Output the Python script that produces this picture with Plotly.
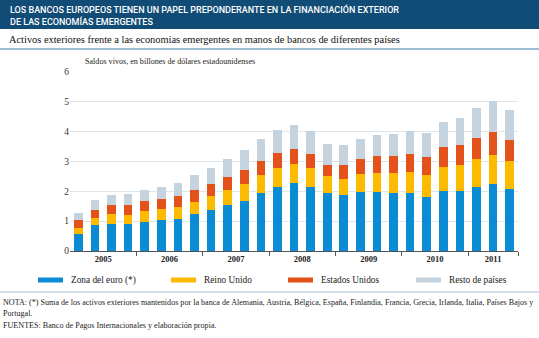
import plotly.graph_objects as go

# Quarterly outstanding foreign claims on emerging economies (trillions of USD)
years = [2005] * 4 + [2006] * 4 + [2007] * 4 + [2008] * 4 + [2009] * 4 + [2010] * 4 + [2011] * 3
quarters = [1, 2, 3, 4] * 6 + [1, 2, 3]

zona_euro = [0.56, 0.86, 0.91, 0.89, 0.96, 1.03, 1.08, 1.23, 1.38, 1.54, 1.68, 1.94, 2.15, 2.27,
             2.14, 1.94, 1.87, 1.99, 1.99, 1.96, 1.94, 1.81, 2.00, 2.02, 2.16, 2.24, 2.09]
reino_unido = [0.20, 0.24, 0.32, 0.33, 0.37, 0.38, 0.40, 0.42, 0.47, 0.50, 0.56, 0.61, 0.64, 0.65,
               0.65, 0.56, 0.55, 0.58, 0.61, 0.64, 0.71, 0.74, 0.83, 0.86, 0.91, 0.99, 0.93]
estados_unidos = [0.29, 0.29, 0.31, 0.31, 0.33, 0.34, 0.36, 0.39, 0.39, 0.45, 0.47, 0.48, 0.50, 0.50,
                  0.46, 0.39, 0.47, 0.50, 0.57, 0.58, 0.60, 0.61, 0.64, 0.67, 0.72, 0.77, 0.70]
resto = [0.22, 0.33, 0.33, 0.37, 0.38, 0.41, 0.44, 0.51, 0.55, 0.59, 0.68, 0.73, 0.78, 0.81,
         0.78, 0.70, 0.65, 0.68, 0.71, 0.75, 0.78, 0.78, 0.87, 0.91, 1.00, 1.04, 1.01]

series_names = ["Zona del euro (*)", "Reino Unido", "Estados Unidos", "Resto de países"]
series_values = [zona_euro, reino_unido, estados_unidos, resto]
series_colors = ["#0a8bd3", "#fcbb00", "#e3521b", "#c4d3dd"]

y_ticks = [0, 1, 2, 3, 4, 5, 6]

title_lines = ["LOS BANCOS EUROPEOS TIENEN UN PAPEL PREPONDERANTE EN LA FINANCIACIÓN EXTERIOR",
               "DE LAS ECONOMÍAS EMERGENTES"]
subtitle = "Activos exteriores frente a las economías emergentes en manos de bancos de diferentes países"
units = "Saldos vivos, en billones de dólares estadounidenses"
note_lines = ["NOTA: (*) Suma de los activos exteriores mantenidos por la banca de Alemania, Austria, Bélgica, "
              "España, Finlandia, Francia, Grecia, Irlanda, Italia, Países Bajos y",
              "Portugal.",
              "FUENTES: Banco de Pagos Internacionales y elaboración propia."]

W, H = 539, 338
ML, MR, MT, MB = 70, 21, 72, 87
PW, PH = W - ML - MR, H - MT - MB


def px(x):
    return (x - ML) / PW


def py(y):
    return (H - MB - y) / PH


SERIF = "Liberation Serif, Times New Roman, serif"
HEAD = "Roboto, Liberation Sans, sans-serif"

x = list(range(len(years)))

fig = go.Figure()
for name, vals, col in zip(series_names, series_values, series_colors):
    fig.add_trace(go.Bar(x=x, y=vals, name=name, marker=dict(color=col, line=dict(width=0)),
                         showlegend=False))

# year labels centred under each year's quarters, ticks at year boundaries
year_list = sorted(set(years))
centers = [sum(i for i, yv in enumerate(years) if yv == yr) / years.count(yr) for yr in year_list]
bounds = [i - 0.5 for i in range(1, len(years)) if years[i] != years[i - 1]] + [len(years) - 0.5]

fig.update_layout(
    width=W, height=H,
    margin=dict(l=ML, r=MR, t=MT, b=MB),
    paper_bgcolor="white", plot_bgcolor="white",
    barmode="stack", bargap=0.48,
    xaxis=dict(range=[-0.5, len(years) - 0.5], tickmode="array", tickvals=centers,
               ticktext=["<b>%d</b>" % v for v in year_list], ticks="", showgrid=False,
               showline=True, linecolor="#555555", linewidth=1,
               tickfont=dict(family=SERIF, size=8.5, color="#222222"),
               minor=dict(tickmode="array", tickvals=bounds, ticks="outside", ticklen=4,
                          tickwidth=1, tickcolor="#555555", showgrid=False),
               zeroline=False, fixedrange=True),
    yaxis=dict(range=[0, 6], tickmode="array", tickvals=y_ticks, showgrid=True,
               gridcolor="#dde6ed", gridwidth=1, zeroline=False, showline=False,
               tickfont=dict(family=SERIF, size=9.5, color="#333333"), ticks="",
               fixedrange=True),
    font=dict(family=SERIF),
)

shapes = []
annotations = []

# header band
shapes.append(dict(type="rect", xref="paper", yref="paper", x0=px(0), x1=px(W), y0=py(29), y1=py(0),
                   fillcolor="#114c76", line=dict(width=0), layer="below"))
for i, line in enumerate(title_lines):
    annotations.append(dict(xref="paper", yref="paper", x=px(8), y=py(9.5 + 12 * i), text=line,
                            showarrow=False, xanchor="left", yanchor="middle",
                            font=dict(family=HEAD, size=9.0, weight=500, color="white")))
annotations.append(dict(xref="paper", yref="paper", x=px(7), y=py(40), text=subtitle, showarrow=False,
                        xanchor="left", yanchor="middle", font=dict(family=SERIF, size=10.4, color="#111111")))
shapes.append(dict(type="line", xref="paper", yref="paper", x0=px(0), x1=px(W), y0=py(49), y1=py(49),
                   line=dict(color="#9dbdd4", width=2)))
annotations.append(dict(xref="paper", yref="paper", x=px(83), y=py(62), text=units, showarrow=False,
                        xanchor="left", yanchor="middle", font=dict(family=SERIF, size=8.1, color="#222222")))

# legend with wide swatches
leg_x = [38, 171, 288, 416]
for lx, name, col in zip(leg_x, series_names, series_colors):
    shapes.append(dict(type="rect", xref="paper", yref="paper", x0=px(lx), x1=px(lx + 25),
                       y0=py(282.5), y1=py(277.5), fillcolor=col, line=dict(width=0)))
    annotations.append(dict(xref="paper", yref="paper", x=px(lx + 31), y=py(280), text=name,
                            showarrow=False, xanchor="left", yanchor="middle",
                            font=dict(family=SERIF, size=9.3, color="#222222")))

shapes.append(dict(type="line", xref="paper", yref="paper", x0=px(0), x1=px(W), y0=py(292), y1=py(292),
                   line=dict(color="#a7c0d2", width=1)))
for yy, line in zip([302, 313.5, 325], note_lines):
    annotations.append(dict(xref="paper", yref="paper", x=px(1), y=py(yy), text=line, showarrow=False,
                            xanchor="left", yanchor="middle",
                            font=dict(family=SERIF, size=8.1, color="#222222")))

fig.update_layout(shapes=shapes, annotations=annotations)
fig.write_html("out.html")
